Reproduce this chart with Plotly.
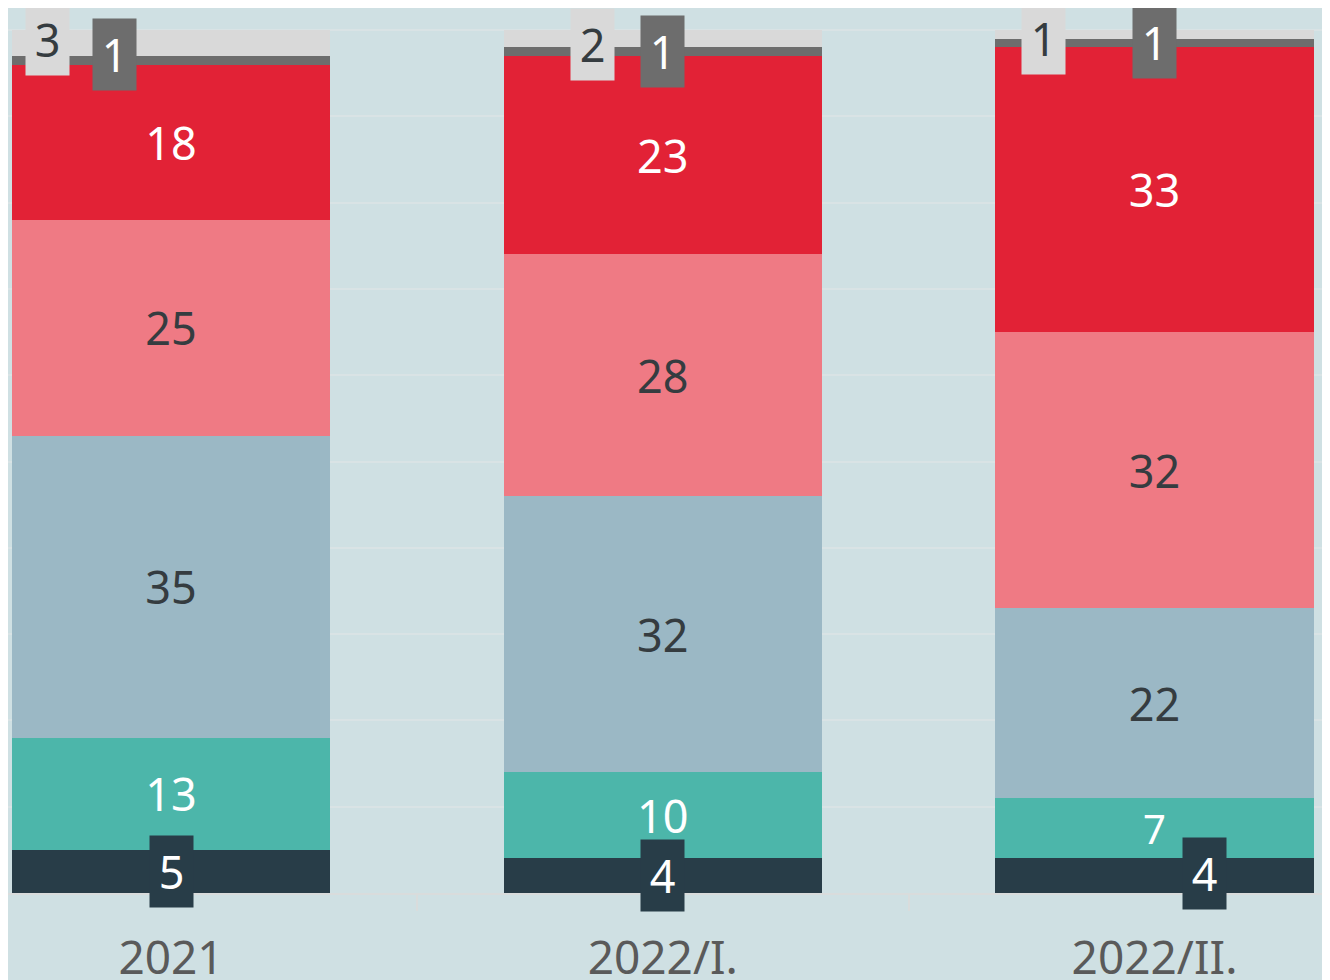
import plotly.graph_objects as go

categories = ["2021", "2022/I.", "2022/II."]
s_dark = [5, 4, 4]
s_teal = [13, 10, 7]
s_grayblue = [35, 32, 22]
s_pink = [25, 28, 32]
s_red = [18, 23, 33]
s_darkgray = [1, 1, 1]
s_lightgray = [3, 2, 1]

BG = "#cfe0e3"
FONT = "Noto Sans"
FS = 45
DARKTXT = "#353c40"

series = [
    ("dark", s_dark, "#283d48", None),
    ("teal", s_teal, "#4cb6aa", "white"),
    ("grayblue", s_grayblue, "#9bb8c5", DARKTXT),
    ("pink", s_pink, "#ef7a84", DARKTXT),
    ("red", s_red, "#e22236", "white"),
    ("darkgray", s_darkgray, "#6d6d6d", None),
    ("lightgray", s_lightgray, "#d9d9d9", None),
]

fig = go.Figure()
for name, vals, color, tcol in series:
    if tcol is not None:
        kw = dict(text=[str(v) for v in vals], textposition="inside",
                  insidetextanchor="middle", textangle=0,
                  insidetextfont=dict(color=tcol, size=FS, family=FONT))
    else:
        kw = dict(textposition="none")
    fig.add_trace(go.Bar(x=categories, y=vals, name=name, marker_color=color,
                         marker_line_width=0, hoverinfo="skip", **kw))

# boxed labels for small segments
box_specs = [
    # (values, series index, box color, text color, x offsets (cat units), y shifts px)
    (s_dark, 0, "#283d48", "white", [0.0, 0.0, 0.102], [0, 0, 2]),
    (s_darkgray, 5, "#6d6d6d", "white", [-0.115, 0.0, 0.0], [6, 0, 0]),
    (s_lightgray, 6, "#d9d9d9", DARKTXT, [-0.251, -0.142, -0.225], [3, -6, -4]),
]
all_vals = [s for _, s, _, _ in series]
for vals, idx, bcol, tcol, xoffs, yshifts in box_specs:
    for i, v in enumerate(vals):
        base = sum(all_vals[k][i] for k in range(idx))
        fig.add_annotation(x=i + xoffs[i], y=base + v / 2, xref="x", yref="y",
                           text=str(v), showarrow=False, bgcolor=bcol,
                           width=43, height=71, borderpad=0, valign="middle",
                           yshift=yshifts[i],
                           font=dict(color=tcol, size=FS, family=FONT))

fig.update_layout(
    width=1330, height=980,
    margin=dict(l=0, r=0, t=0, b=95),
    paper_bgcolor=BG, plot_bgcolor=BG,
    barmode="stack", bargap=0.353,
    showlegend=False,
    font=dict(family=FONT),
)
fig.update_xaxes(type="category", range=[-0.3315, 2.3731],
                 tickson="boundaries", ticks="outside", ticklen=16,
                 tickcolor="#d9dcdc", tickwidth=2,
                 showline=True, linecolor="#d9dcdc", linewidth=2,
                 showgrid=False,
                 tickfont=dict(size=46, color="#5a5a5a", family=FONT),
                 ticklabelstandoff=24)
fig.update_yaxes(range=[0, 102.55], dtick=10, showgrid=True,
                 gridcolor="#d9e3e5", gridwidth=2,
                 showticklabels=False, zeroline=False)

fig.write_html("out.html")
